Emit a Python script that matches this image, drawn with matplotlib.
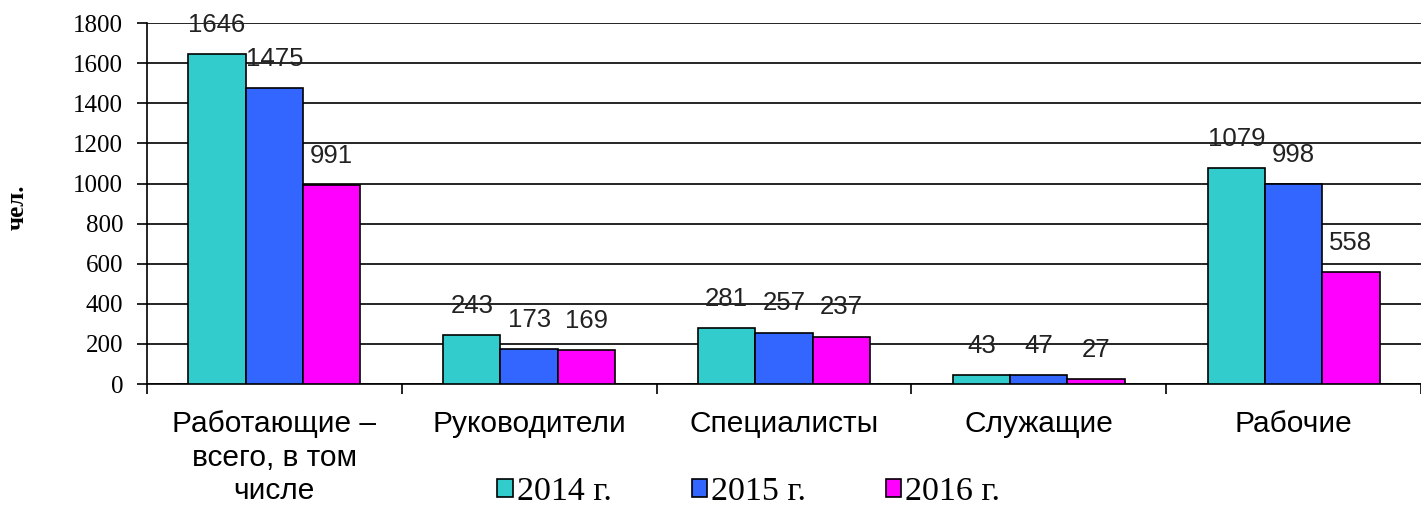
import numpy as np
import matplotlib
matplotlib.use('Agg')
import matplotlib.pyplot as plt

categories = ['Работающие –\nвсего, в том\nчисле', 'Руководители', 'Специалисты', 'Служащие', 'Рабочие']
years = ['2014 г.', '2015 г.', '2016 г.']
values_2014 = [1646, 243, 281, 43, 1079]
values_2015 = [1475, 173, 257, 47, 998]
values_2016 = [991, 169, 237, 27, 558]
colors = ['#33CCCC', '#3366FF', '#FF00FF']

fig = plt.figure(figsize=(14.21, 5.08), dpi=100)
ax = fig.add_axes([0.1034, 0.244, 0.8966, 0.7106])

x = np.arange(len(categories))
w = 0.225
series = [values_2014, values_2015, values_2016]
for i, (vals, col, lab) in enumerate(zip(series, colors, years)):
    bars = ax.bar(x + (i - 1) * w, vals, w, color=col, edgecolor='black',
                  linewidth=1.2, label=lab, zorder=3)
    for b, v in zip(bars, vals):
        ax.text(b.get_x() + b.get_width() / 2, v + 145, str(v),
                ha='center', va='center', fontsize=18.5,
                family='Liberation Sans', color='#222222', zorder=4)

ax.set_xlim(-0.5, 4.5)
ax.set_ylim(0, 1800)
ax.set_yticks(range(0, 1801, 200))
ax.yaxis.grid(True, color='black', linewidth=1.2, zorder=0)
ax.set_axisbelow(True)
for s in ['top', 'right']:
    ax.spines[s].set_visible(False)
ax.spines['left'].set_linewidth(1.2)
ax.spines['bottom'].set_linewidth(1.2)

ax.set_xticks(x)
ax.set_xticklabels(categories, fontsize=21.5, family='Liberation Sans',
                   linespacing=1.25, va='top')
ax.set_xticks(np.arange(-0.5, 4.6, 1), minor=True)
ax.tick_params(axis='x', which='major', length=0, pad=19)
ax.tick_params(axis='x', which='minor', length=7, width=1.2, direction='out')
ax.tick_params(axis='y', length=7, width=1.2, pad=10)
for t in ax.get_yticklabels():
    t.set_family('Liberation Serif')
    t.set_fontsize(18)

fig.text(0.012, 0.593, 'чел.', rotation=90, ha='center', va='center',
         fontsize=18, fontweight='bold', family='Liberation Serif')

leg = fig.legend(loc='center', bbox_to_anchor=(0.527, 0.032), ncol=3, frameon=False,
                 prop={'family': 'Liberation Serif', 'size': 24.5},
                 handlelength=0.45, handleheight=0.45, handletextpad=0.12,
                 columnspacing=2.35, borderaxespad=0, borderpad=0)

plt.savefig('out.png', dpi=100)
